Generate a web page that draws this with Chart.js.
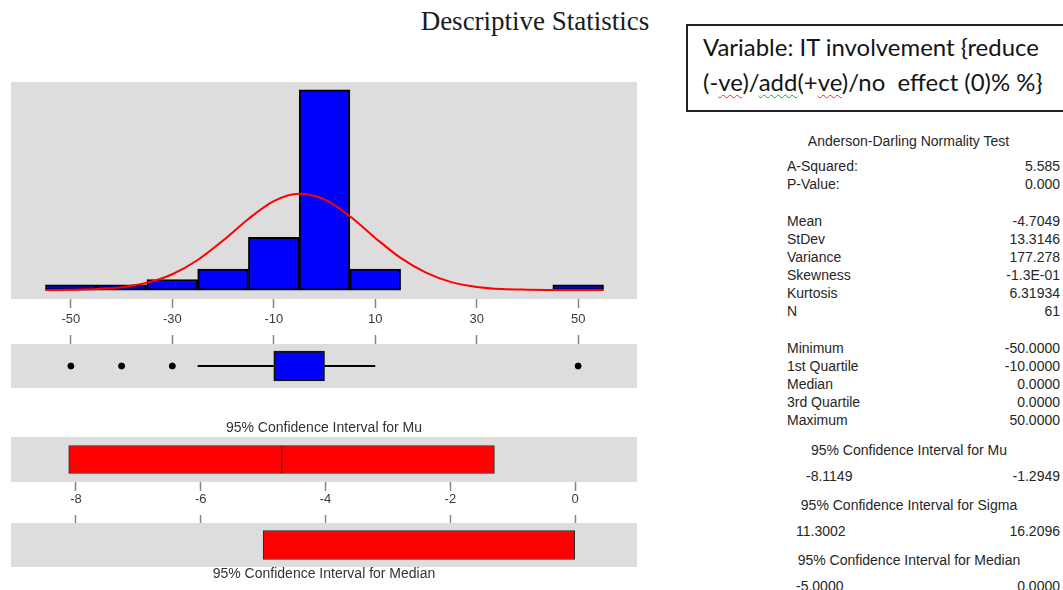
<!DOCTYPE html>
<html lang="en">
<head>
<meta charset="utf-8">
<title>Descriptive Statistics</title>
<script src="https://cdn.jsdelivr.net/npm/chart.js@4.4.1/dist/chart.umd.min.js"></script>
<style>
  html, body { margin: 0; padding: 0; background: #fff; }
  body { position: relative; width: 1063px; height: 590px; overflow: hidden;
         font-family: "Liberation Sans", Arial, sans-serif; color: #262626; }
  canvas.panel { position: absolute; left: 11px; }
  .t { position: absolute; font-size: 14px; line-height: 16px; white-space: nowrap; }
  .r { text-align: right; }
  .c { text-align: center; }
  #mainTitle { position: absolute; left: 285px; width: 500px; top: 8px; text-align: center;
               font-family: "Liberation Serif", "Times New Roman", serif; font-size: 27px;
               line-height: 27px; color: #1a1a1a; }
  #varBox { position: absolute; left: 686px; top: 24px; width: 420px; height: 84px;
            border: 2px solid #222; border-right: none; }
  .vline { position: absolute; left: 703px; font-family: Lato, "Open Sans", sans-serif;
           white-space: pre; line-height: 1; color: #141414; }
  .sp-red { text-decoration: underline wavy #e03030; text-decoration-thickness: 1px; text-underline-offset: 3px; }
  .sp-green { text-decoration: underline wavy #2e9a2e; text-decoration-thickness: 1px; text-underline-offset: 3px; }
</style>
</head>
<body>
<div id="mainTitle">Descriptive Statistics</div>
<div id="varBox"></div>
<div class="vline" id="vl1">Variable: IT involvement {reduce</div>
<div class="vline" id="vl2">(-<span class="sp-red">ve</span>)/<span class="sp-green">add</span>(+<span class="sp-red">ve</span>)/no  effect (0)% %}</div>

<canvas class="panel" id="histChart" width="626" height="253" style="top:82px"></canvas>
<canvas class="panel" id="boxChart" width="626" height="53" style="top:335px"></canvas>
<canvas class="panel" id="muChart" width="626" height="94" style="top:421px"></canvas>
<canvas class="panel" id="medChart" width="626" height="70" style="top:515px"></canvas>

<script>
// ---- histogram (bin midpoints, counts) ----
const binMidpoints = [-50, -40, -30, -20, -10, 0, 10, 20, 30, 40, 50];
const binCounts    = [1, 1, 2, 4, 10, 38, 4, 0, 0, 0, 1];

// ---- fitted normal curve, read at every 5 units ----
const curveX = [-55, -50, -45, -40, -35, -30, -25, -20, -15, -10, -5, 0, 5, 10, 15, 20, 25, 30, 35, 40, 45, 50, 55];
const curveY = [0.01, 0.06, 0.19, 0.54, 1.37, 3.0, 5.7, 9.4, 13.5, 16.9, 18.3, 17.2, 14.0, 9.9, 6.1, 3.3, 1.5, 0.6, 0.2, 0.07, 0.02, 0, 0];

const histTicks = [-50, -30, -10, 10, 30, 50];

// ---- box plot ----
const boxQ1 = -10;
const boxQ3 = 0;
const whiskerLow = -25;
const whiskerHigh = 10;
const outliers = [-50, -40, -30, 50];

// ---- confidence intervals ----
const meanValue = -4.7049;
const muInterval = [-8.1149, -1.2949];
const sigmaInterval = [11.3002, 16.2096];
const medianInterval = [-5.0, 0.0];
const ciTicks = [-8, -6, -4, -2, 0];

// ---- summary table ----
const adRows = [['A-Squared:', '5.585'], ['P-Value:', '0.000']];
const momentRows = [['Mean', '-4.7049'], ['StDev', '13.3146'], ['Variance', '177.278'],
                    ['Skewness', '-1.3E-01'], ['Kurtosis', '6.31934'], ['N', '61']];
const orderRows = [['Minimum', '-50.0000'], ['1st Quartile', '-10.0000'], ['Median', '0.0000'],
                   ['3rd Quartile', '0.0000'], ['Maximum', '50.0000']];

const FONT = '"Liberation Sans", Arial, sans-serif';
Chart.defaults.font.family = FONT;

const BLUE = '#0000ff';
const RED = '#ff0000';

// grey plotting region behind each panel
const grayPanel = {
  id: 'grayPanel',
  beforeDraw(chart) {
    const { ctx, chartArea: a } = chart;
    ctx.save();
    ctx.fillStyle = '#dddddd';
    ctx.fillRect(a.left, a.top, a.right - a.left, a.bottom - a.top);
    ctx.restore();
  }
};

function tickAxis({ min, max, position, values, showLabels, height, padding }) {
  return {
    type: 'linear', min, max, position,
    offset: false,
    border: { display: false },
    grid: { offset: false, drawOnChartArea: false, drawTicks: true, tickLength: 9,
            tickColor: '#858585', tickWidth: 1.5 },
    ticks: { display: showLabels, color: '#3a3a3a', font: { size: 13 }, padding: padding || 0, maxRotation: 0 },
    afterBuildTicks(scale) { scale.ticks = values.map(v => ({ value: v })); },
    afterFit(scale) { scale.height = height; }
  };
}

const basePlugins = { legend: { display: false }, tooltip: { enabled: false }, colors: { enabled: false } };
const baseOptions = {
  responsive: false,
  animation: false,
  events: [],
  layout: { padding: 0, autoPadding: false },
  plugins: basePlugins
};

// histogram with fitted curve
new Chart(document.getElementById('histChart'), {
  type: 'bar',
  data: {
    datasets: [
      {
        type: 'line',
        data: curveX.map((x, i) => ({ x, y: curveY[i] })),
        borderColor: RED, borderWidth: 2, pointRadius: 0,
        cubicInterpolationMode: 'monotone', order: 0
      },
      {
        type: 'bar',
        data: binMidpoints.map((x, i) => ({ x, y: binCounts[i] })),
        backgroundColor: BLUE, borderColor: '#000000', borderWidth: 2,
        borderSkipped: false, barPercentage: 1, categoryPercentage: 1, order: 1
      }
    ]
  },
  options: {
    ...baseOptions,
    scales: {
      x: tickAxis({ min: -61.8, max: 61.6, position: 'bottom', values: histTicks, showLabels: true, height: 36, padding: 4 }),
      y: { type: 'linear', display: false, min: -1.7, max: 39.5 }
    }
  },
  plugins: [grayPanel]
});

// box plot
new Chart(document.getElementById('boxChart'), {
  type: 'scatter',
  data: {
    datasets: [
      {
        type: 'scatter',
        data: outliers.map(x => ({ x, y: 0 })),
        pointRadius: 3, pointBackgroundColor: '#000', pointBorderColor: '#000', order: 0
      },
      {
        type: 'bar', indexAxis: 'y',
        data: [{ x: [boxQ1, boxQ3], y: 0 }],
        backgroundColor: BLUE, borderColor: '#111', borderWidth: 2,
        borderSkipped: false, barThickness: 30, order: 1
      },
      {
        type: 'line',
        data: [{ x: whiskerLow, y: 0 }, { x: boxQ1, y: 0 }],
        borderColor: '#000', borderWidth: 2, pointRadius: 0, order: 2
      },
      {
        type: 'line',
        data: [{ x: boxQ3, y: 0 }, { x: whiskerHigh, y: 0 }],
        borderColor: '#000', borderWidth: 2, pointRadius: 0, order: 2
      }
    ]
  },
  options: {
    ...baseOptions,
    scales: {
      x: tickAxis({ min: -61.8, max: 61.6, position: 'top', values: histTicks, showLabels: false, height: 9 }),
      y: { type: 'linear', display: false, min: -1, max: 1 }
    }
  },
  plugins: [grayPanel]
});

const titleFont = { size: 14, weight: 'normal', lineHeight: 1 };
const ciBar = { backgroundColor: RED, borderColor: '#2a2a2a', borderWidth: 1, borderSkipped: false };

// confidence interval for the mean, split at the sample mean
new Chart(document.getElementById('muChart'), {
  type: 'bar',
  data: {
    datasets: [
      { ...ciBar, barThickness: 28, grouped: false, data: [{ x: [muInterval[0], meanValue], y: 0 }] },
      { ...ciBar, barThickness: 28, grouped: false, data: [{ x: [meanValue, muInterval[1]], y: 0 }] }
    ]
  },
  options: {
    ...baseOptions,
    indexAxis: 'y',
    plugins: {
      ...basePlugins,
      title: { display: true, text: '95% Confidence Interval for Mu', position: 'top',
               font: titleFont, color: '#333', padding: { top: 0, bottom: 2 } }
    },
    scales: {
      x: tickAxis({ min: -9.04, max: 0.99, position: 'bottom', values: ciTicks, showLabels: true, height: 33, padding: 1 }),
      y: { type: 'linear', display: false, min: -1, max: 1, offset: false }
    }
  },
  plugins: [grayPanel]
});

// confidence interval for the median
new Chart(document.getElementById('medChart'), {
  type: 'bar',
  data: {
    datasets: [
      { ...ciBar, barThickness: 29, data: [{ x: medianInterval, y: 0 }] }
    ]
  },
  options: {
    ...baseOptions,
    indexAxis: 'y',
    plugins: {
      ...basePlugins,
      title: { display: true, text: '95% Confidence Interval for Median', position: 'bottom',
               font: titleFont, color: '#333', padding: { top: 0, bottom: 4 } }
    },
    scales: {
      x: tickAxis({ min: -9.04, max: 0.99, position: 'top', values: ciTicks, showLabels: false, height: 8 }),
      y: { type: 'linear', display: false, min: -1, max: 1, offset: false }
    }
  },
  plugins: [grayPanel]
});

// ---- summary table text ----
const LABEL_X = 787;
const VALUE_RIGHT = 1060;
const ROW_STEP = 18;

function put(text, cls, style) {
  const d = document.createElement('div');
  d.className = 't ' + cls;
  d.textContent = text;
  Object.assign(d.style, style);
  document.body.appendChild(d);
}
function leftAt(text, x, y) { put(text, '', { left: x + 'px', top: (y - 8) + 'px' }); }
function rightAt(text, xr, y) { put(text, 'r', { left: (xr - 200) + 'px', width: '200px', top: (y - 8) + 'px' }); }
function centerAt(text, cx, y) { put(text, 'c', { left: (cx - 150) + 'px', width: '300px', top: (y - 8) + 'px' }); }

function rowBlock(rows, y0) {
  rows.forEach(([label, value], i) => {
    leftAt(label, LABEL_X, y0 + i * ROW_STEP);
    rightAt(value, VALUE_RIGHT, y0 + i * ROW_STEP);
  });
}

centerAt('Anderson-Darling Normality Test', 908.5, 141);
rowBlock(adRows, 166);
rowBlock(momentRows, 221);
rowBlock(orderRows, 348);

const ciBlocks = [
  { title: '95% Confidence Interval for Mu', range: muInterval, y: 450, left: 806 },
  { title: '95% Confidence Interval for Sigma', range: sigmaInterval, y: 505, left: 796 },
  { title: '95% Confidence Interval for Median', range: medianInterval, y: 560, left: 796 }
];
ciBlocks.forEach(b => {
  centerAt(b.title, 909, b.y);
  leftAt(b.range[0].toFixed(4), b.left, b.y + 26);
  rightAt(b.range[1].toFixed(4), VALUE_RIGHT, b.y + 26);
});

// ---- variable caption: size the two lines to the caption box ----
(function fitCaption() {
  const l1 = document.getElementById('vl1');
  const l2 = document.getElementById('vl2');
  const targetWidth = 336;
  let size = 20;
  l1.style.fontSize = size + 'px';
  const w = l1.getBoundingClientRect().width;
  size = size * targetWidth / w;
  [[l1, 56], [l2, 91]].forEach(([el, baseline]) => {
    el.style.fontSize = size + 'px';
    el.style.top = (baseline - 0.887 * size) + 'px';
  });
})();
</script>
</body>
</html>
